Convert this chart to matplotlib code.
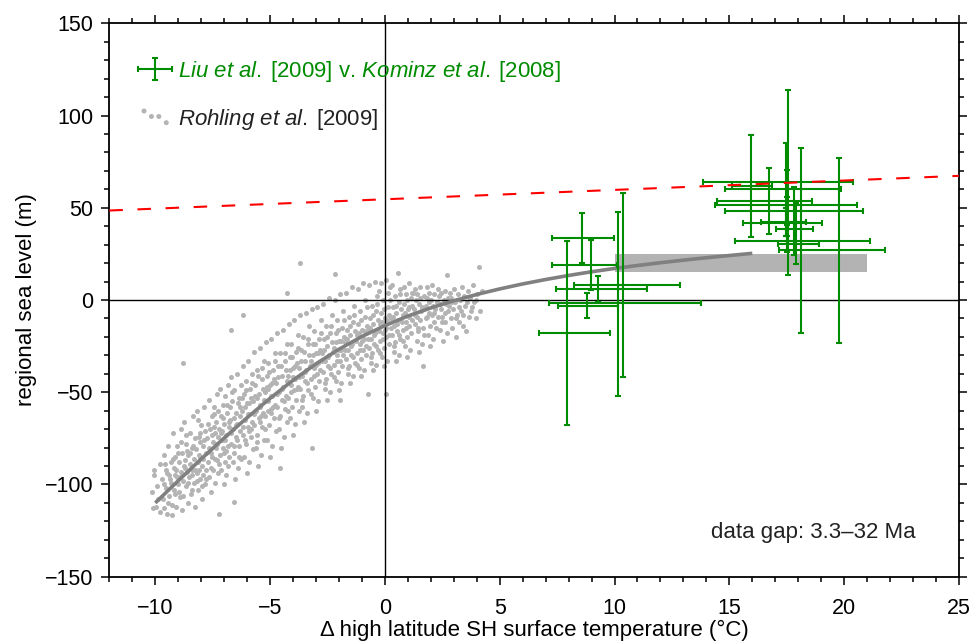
import matplotlib
matplotlib.use("Agg")
import matplotlib.pyplot as plt
import numpy as np
from matplotlib.ticker import MultipleLocator
from matplotlib.container import ErrorbarContainer
from matplotlib.legend_handler import HandlerErrorbar

plt.rcParams["font.family"] = ["Liberation Sans", "DejaVu Sans"]
plt.rcParams["font.size"] = 16
plt.rcParams["mathtext.fontset"] = "custom"
plt.rcParams["mathtext.rm"] = "Liberation Sans"
plt.rcParams["mathtext.it"] = "Liberation Sans:italic"

# ---------------------------------------------------------
# DATA
# ---------------------------------------------------------
# Rohling et al. [2009] cloud: (dT, sea level)
rohling_pts = [
    (-10.15, -104), (-10.05, -95), (-9.98, -112), (-9.92, -101), (-9.88, -108), (-9.8, -89), (-9.78, -115), (-10.1, -113),
    (-9.7, -97), (-9.68, -108), (-9.62, -84), (-9.6, -113), (-9.55, -92), (-9.52, -102), (-9.48, -116), (-9.45, -79),
    (-9.42, -95), (-9.38, -106), (-9.33, -88), (-9.3, -99), (-9.27, -111), (-9.5, -94),
    (-9.22, -72), (-9.2, -91), (-9.18, -103), (-9.14, -85), (-9.1, -112), (-9.07, -96), (-9.04, -79), (-9.0, -100),
    (-8.97, -88), (-8.94, -107), (-8.9, -70), (-8.87, -93), (-8.84, -114), (-8.82, -83), (-8.79, -98), (-8.76, -90),
    (-9.12, -95), (-8.95, -104),
    (-8.73, -66), (-8.7, -87), (-8.68, -101), (-8.65, -78), (-8.62, -93), (-8.59, -110), (-8.56, -84), (-8.53, -96),
    (-8.5, -72), (-8.47, -89), (-8.45, -105), (-8.42, -80), (-8.39, -92), (-8.36, -63), (-8.33, -99), (-8.3, -86),
    (-8.28, -112), (-8.26, -75), (-8.6, -82), (-8.4, -95),
    (-8.23, -81), (-8.2, -94), (-8.18, -60), (-8.15, -88), (-8.12, -103), (-8.1, -74), (-8.07, -85), (-8.04, -97),
    (-8.01, -68), (-7.98, -90), (-7.95, -108), (-7.93, -79), (-7.9, -86), (-7.87, -58), (-7.84, -100), (-7.82, -71),
    (-7.8, -92), (-7.77, -83), (-8.05, -77), (-7.92, -95), (-8.15, -65),
    (-7.73, -75), (-7.7, -88), (-7.68, -54), (-7.65, -96), (-7.62, -70), (-7.6, -81), (-7.57, -104), (-7.55, -63),
    (-7.52, -85), (-7.5, -77), (-7.47, -92), (-7.45, -58), (-7.42, -72), (-7.4, -99), (-7.37, -80), (-7.35, -66),
    (-7.32, -87), (-7.3, -51), (-7.28, -94), (-7.26, -74), (-7.58, -83), (-7.44, -69),
    (-7.23, -70), (-7.2, -84), (-7.18, -48), (-7.15, -63), (-7.12, -92), (-7.1, -76), (-7.07, -57), (-7.05, -80),
    (-7.02, -100), (-7.0, -67), (-6.97, -88), (-6.95, -52), (-6.92, -73), (-6.9, -95), (-6.87, -61), (-6.85, -79),
    (-6.82, -46), (-6.8, -69), (-6.78, -85), (-6.76, -58), (-7.08, -71), (-6.93, -82),
    (-6.73, -65), (-6.7, -78), (-6.68, -42), (-6.65, -55), (-6.62, -88), (-6.6, -70), (-6.57, -49), (-6.55, -83),
    (-6.52, -97), (-6.5, -61), (-6.47, -74), (-6.45, -40), (-6.42, -67), (-6.4, -91), (-6.37, -53), (-6.35, -79),
    (-6.32, -58), (-6.3, -71), (-6.28, -46), (-6.26, -86), (-6.58, -64), (-6.44, -76),
    (-6.23, -60), (-6.2, -73), (-6.18, -36), (-6.15, -51), (-6.12, -85), (-6.1, -65), (-6.07, -44), (-6.05, -78),
    (-6.02, -94), (-6.0, -56), (-5.97, -69), (-5.95, -33), (-5.92, -62), (-5.9, -88), (-5.87, -48), (-5.85, -74),
    (-5.82, -53), (-5.8, -66), (-5.78, -40), (-5.76, -81), (-6.08, -58), (-5.93, -71),
    (-5.73, -55), (-5.7, -68), (-5.68, -28), (-5.65, -46), (-5.62, -80), (-5.6, -60), (-5.57, -38), (-5.55, -73),
    (-5.52, -90), (-5.5, -51), (-5.47, -64), (-5.45, -26), (-5.42, -57), (-5.4, -84), (-5.37, -43), (-5.35, -69),
    (-5.32, -48), (-5.3, -61), (-5.28, -33), (-5.26, -76), (-5.58, -53), (-5.44, -66),
    (-5.23, -50), (-5.2, -63), (-5.18, -23), (-5.15, -41), (-5.12, -76), (-5.1, -55), (-5.07, -34), (-5.05, -68),
    (-5.02, -85), (-5.0, -46), (-4.97, -59), (-4.95, -21), (-4.92, -52), (-4.9, -79), (-4.87, -38), (-4.85, -64),
    (-4.82, -43), (-4.8, -57), (-4.78, -29), (-4.76, -71), (-5.08, -48), (-4.94, -61),
    (-4.73, -45), (-4.7, -58), (-4.68, -18), (-4.65, -36), (-4.62, -70), (-4.6, -50), (-4.57, -29), (-4.55, -63),
    (-4.52, -80), (-4.5, -41), (-4.47, -54), (-4.45, -16), (-4.42, -47), (-4.4, -74), (-4.37, -33), (-4.35, -59),
    (-4.32, -38), (-4.3, -52), (-4.28, -24), (-4.26, -66), (-4.57, -91),
    (-4.23, -41), (-4.2, -53), (-4.18, -13), (-4.15, -31), (-4.12, -64), (-4.1, -46), (-4.07, -24), (-4.05, -58),
    (-4.02, -73), (-4.0, -37), (-3.97, -49), (-3.95, -11), (-3.92, -43), (-3.9, -67), (-3.87, -28), (-3.85, -54),
    (-3.82, -34), (-3.8, -47), (-3.78, -19), (-3.76, -60),
    (-3.73, -37), (-3.7, -48), (-3.68, -8), (-3.65, -27), (-3.62, -58), (-3.6, -41), (-3.57, -20), (-3.55, -52),
    (-3.52, -66), (-3.5, -33), (-3.47, -44), (-3.45, -7), (-3.42, -38), (-3.4, -61), (-3.37, -24), (-3.35, -49),
    (-3.32, -30), (-3.3, -14), (-3.7, 20),
    (-3.23, -33), (-3.2, -43), (-3.18, -5), (-3.15, -24), (-3.12, -53), (-3.1, -37), (-3.07, -17), (-3.05, -47),
    (-3.02, -60), (-3.0, -29), (-2.97, -40), (-2.95, -4), (-2.92, -34), (-2.9, -55), (-2.87, -21), (-2.85, -44),
    (-2.82, -27), (-2.8, -11), (-3.16, -80),
    (-2.73, -29), (-2.7, -39), (-2.68, -2), (-2.65, -21), (-2.62, -48), (-2.6, -33), (-2.57, -14), (-2.55, -43),
    (-2.52, -54), (-2.5, -25), (-2.47, -36), (-2.45, 1), (-2.42, -30), (-2.4, -50), (-2.37, -18), (-2.35, -40),
    (-2.32, -8), (-2.3, -23),
    (-2.23, -26), (-2.2, -35), (-2.18, 0), (-2.16, 14), (-2.15, -18), (-2.12, -44), (-2.1, -30), (-2.07, -11),
    (-2.05, -39), (-2.02, -49), (-2.0, -22), (-1.97, -33), (-1.95, 3), (-1.92, -27), (-1.9, -45), (-1.87, -15),
    (-1.85, -36), (-1.82, -6), (-1.8, -20), (-1.96, -54),
    (-1.73, -23), (-1.7, -32), (-1.68, 4), (-1.65, -16), (-1.62, -40), (-1.6, -27), (-1.57, -9), (-1.55, -36),
    (-1.52, -45), (-1.5, -19), (-1.47, -30), (-1.45, 7), (-1.42, -24), (-1.4, -41), (-1.37, -12), (-1.35, -3),
    (-1.32, -34), (-1.3, -17),
    (-1.23, -19), (-1.2, -29), (-1.18, 6), (-1.15, -13), (-1.12, -37), (-1.1, -24), (-1.07, -6), (-1.05, -32),
    (-1.02, -41), (-1.0, -16), (-0.97, -27), (-0.95, 9), (-0.92, -21), (-0.9, -38), (-0.87, -9), (-0.85, 0),
    (-0.82, -30), (-0.8, -14),
    (-0.74, -51), (-0.73, -16), (-0.7, -26), (-0.68, 8), (-0.65, -10), (-0.62, -34), (-0.6, -21), (-0.57, -3),
    (-0.55, -29), (-0.52, -38), (-0.5, -13), (-0.47, -24), (-0.45, 10), (-0.42, -18), (-0.4, -35), (-0.37, -6),
    (-0.35, 2), (-0.32, -27), (-0.3, -11), (-0.27, 5),
    (-0.23, -13), (-0.2, -22), (-0.18, 9), (-0.15, -7), (-0.12, -31), (-0.1, -18), (-0.07, 0), (-0.05, -26),
    (-0.02, -36), (0.0, -10), (0.03, -20), (0.05, 11), (0.07, -15), (0.1, -33), (0.12, -4), (0.15, 4),
    (0.17, -24), (0.2, -8), (0.22, 7), (0.05, -51),
    (0.27, -10), (0.3, -19), (0.32, 8), (0.35, -4), (0.38, -28), (0.4, -14), (0.42, 2), (0.45, -23),
    (0.48, -33), (0.5, -7), (0.53, -17), (0.55, 14.7), (0.57, -11), (0.6, -30), (0.62, -1), (0.65, 6),
    (0.67, -21), (0.7, -5),
    (0.77, -8), (0.8, -16), (0.82, 7), (0.85, -2), (0.88, -25), (0.9, -12), (0.92, 3), (0.95, -20),
    (0.98, -31), (1.0, -5), (1.03, -14), (1.05, 9), (1.07, -9), (1.1, -27), (1.12, 1), (1.15, -18),
    (1.18, 4), (1.2, -3),
    (1.27, -5), (1.3, -13), (1.32, 6), (1.35, 0), (1.38, -22), (1.4, -9), (1.42, 3), (1.45, -17),
    (1.48, -28), (1.5, -2), (1.53, -11), (1.55, 7), (1.58, -6), (1.6, -24), (1.65, -36), (1.67, -15), (1.7, 2),
    (1.77, -3), (1.8, -10), (1.82, 7), (1.85, 1), (1.88, -19), (1.9, -7), (1.92, 4), (1.95, -14),
    (1.98, -25), (2.0, 0), (2.03, -8), (2.05, 8), (2.08, -3), (2.1, -21), (2.12, -12), (2.15, 3), (2.2, -5),
    (2.27, -1), (2.3, -9), (2.33, 6), (2.36, 2), (2.4, -16), (2.43, -5), (2.46, 4), (2.5, -12),
    (2.53, -22), (2.56, 0), (2.6, -7), (2.63, 5), (2.66, -2), (2.7, -18), (2.72, 13.4), (2.74, 1),
    (2.78, -3), (2.82, 4), (2.86, -10), (2.9, 1), (2.94, -15), (2.98, -5), (3.02, 6), (3.06, -1),
    (3.1, -20), (3.14, -8), (3.18, 3), (3.22, -12),
    (3.28, 0), (3.32, -6), (3.36, 7), (3.4, -14), (3.45, 2), (3.5, -3), (3.55, -17), (3.6, 5), (3.65, -9), (3.7, 1),
    (3.8, -4), (3.85, 8), (3.9, -1), (3.95, -10), (4.02, 3), (4.1, 17.9), (4.15, -6), (4.25, 5),
    (-8.78, -34.3), (-10.04, -92.2), (-6.57, -109.7), (-9.29, -116.3), (-7.23, -115.8),
    (-4.28, 3.8), (-6.72, -16), (-6.17, -8.4),
    # denser core
    (-9.64, -100), (-9.58, -89), (-9.46, -110), (-9.36, -97), (-9.24, -86), (-9.16, -105), (-9.08, -92),
    (-9.02, -83), (-8.92, -96), (-8.86, -77),
    (-8.8, -106), (-8.72, -91), (-8.66, -73), (-8.58, -99), (-8.48, -83), (-8.41, -103), (-8.34, -79),
    (-8.26, -92), (-8.18, -98), (-8.11, -84), (-8.03, -72), (-7.97, -101), (-8.09, -92),
    (-7.88, -76), (-7.8, -97), (-7.72, -67), (-7.66, -80), (-7.59, -91), (-7.53, -73), (-7.46, -62),
    (-7.39, -86), (-7.33, -78), (-7.27, -60), (-7.21, -89), (-7.14, -72), (-7.06, -64), (-7.0, -83),
    (-6.96, -76), (-6.89, -57), (-6.83, -90), (-6.77, -66), (-6.71, -72), (-6.64, -50), (-6.56, -79),
    (-6.49, -68), (-6.41, -56), (-6.34, -85), (-6.29, -63), (-6.22, -53), (-6.16, -69), (-6.09, -76),
    (-6.03, -49), (-5.98, -62),
    (-5.91, -56), (-5.84, -70), (-5.79, -45), (-5.72, -62), (-5.66, -52), (-5.59, -77), (-5.53, -41),
    (-5.46, -58), (-5.39, -63), (-5.33, -37), (-5.27, -54), (-5.21, -70), (-5.14, -47), (-5.09, -60),
    (-5.03, -39), (-4.98, -52),
    (-4.91, -45), (-4.86, -58), (-4.79, -33), (-4.72, -51), (-4.66, -42), (-4.59, -64), (-4.53, -36),
    (-4.46, -48), (-4.39, -55), (-4.33, -29), (-4.27, -44), (-4.21, -60), (-4.14, -38), (-4.08, -50),
    (-4.03, -31), (-3.98, -42),
    (-3.91, -36), (-3.84, -48), (-3.79, -26), (-3.72, -42), (-3.66, -33), (-3.59, -54), (-3.53, -28),
    (-3.46, -39), (-3.39, -45), (-3.33, -21), (-3.27, -36), (-3.21, -51), (-3.14, -30), (-3.08, -41),
    (-3.03, -24), (-2.98, -35),
    (-2.91, -29), (-2.84, -38), (-2.79, -18), (-2.72, -33), (-2.66, -27), (-2.59, -45), (-2.53, -20),
    (-2.46, -31), (-2.39, -37), (-2.33, -14), (-2.27, -28), (-2.21, -42), (-2.14, -23), (-2.08, -33),
    (-2.03, -16), (-1.98, -27),
    (-1.91, -22), (-1.84, -30), (-1.79, -11), (-1.72, -27), (-1.66, -21), (-1.59, -37), (-1.53, -14),
    (-1.46, -25), (-1.39, -31), (-1.33, -8), (-1.27, -22), (-1.21, -35), (-1.14, -18), (-1.08, -27),
    (-1.03, -11), (-0.98, -22),
    (-0.91, -17), (-0.84, -25), (-0.79, -4), (-0.72, -21), (-0.66, -15), (-0.59, -31), (-0.53, -8),
    (-0.46, -19), (-0.39, -25), (-0.33, -2), (-0.27, -17), (-0.21, -29), (-0.14, -12), (-0.08, -21),
    (-0.03, -5), (0.02, -16),
    (0.09, -11), (0.16, -19), (0.21, 0), (0.28, -15), (0.34, -9), (0.41, -25), (0.47, -3), (0.54, -13),
    (0.61, -19), (0.67, 3), (0.73, -12), (0.79, -22), (0.86, -7), (0.92, -15), (0.97, 0),
    (1.06, -4), (1.16, -11), (1.24, 4), (1.33, -8), (1.43, -15), (1.52, 1), (1.62, -4), (1.72, -19),
    (1.83, -9), (1.93, -1),
    (2.14, -7), (2.24, -15), (2.38, -2), (2.48, -9), (2.62, -12), (2.77, -6), (2.92, -1), (3.08, -10),
    (3.24, -4), (3.42, -8), (3.58, -1), (3.76, -6), (3.98, 0),
]

# fitted curve through the cloud
curve_x = [-10, -9, -8, -7, -6, -5, -4, -3, -2, -1, 0, 1, 2, 3, 4, 5, 6, 7, 8,
           9, 10, 11, 12, 13, 14, 15, 16]
curve_y = [-110, -98, -86.2, -74.8, -63.8, -53.3, -43.5, -34.6, -26.7, -19.8, -13.9,
           -8.7, -4.3, -0.4, 3.0, 6.0, 8.7, 11.1, 13.3, 15.3, 17.1, 18.7, 20.2,
           21.6, 22.9, 24.1, 25.3]

# Liu et al. [2009] v. Kominz et al. [2008]
liu_x   = [7.94, 8.57, 8.99, 9.29, 8.80, 10.14, 10.36,
           17.54, 15.93, 17.47, 16.73, 17.51, 17.49, 17.83, 17.47, 17.92, 18.11, 17.51, 19.78]
liu_y   = [-18.0, 33.4, 19.0, 6.0, -3.0, -1.9, 8.2,
           63.9, 61.8, 60.2, 53.8, 51.3, 48.2, 41.7, 42.3, 38.3, 32.2, 30.5, 27.1]
liu_xlo = [6.72, 7.26, 7.26, 7.45, 7.55, 7.16, 8.25,
           13.87, 15.10, 14.81, 14.48, 14.38, 14.81, 15.58, 16.37, 17.03, 15.24, 17.12, 17.15]
liu_xhi = [9.82, 9.98, 10.12, 11.42, 10.17, 13.78, 12.84,
           20.40, 16.85, 19.86, 18.62, 20.57, 20.84, 19.05, 18.34, 18.63, 21.12, 18.90, 21.78]
liu_ylo = [-67.8, 19.9, 5.3, -1.2, -9.9, -51.8, -41.9,
           13.8, 34.2, 34.5, 35.9, 31.9, 40.7, 24.2, 34.9, 19.5, -17.8, 26.2, -23.1]
liu_yhi = [32.2, 46.9, 32.5, 12.8, 3.8, 47.9, 58.0,
           113.9, 89.5, 85.1, 71.8, 70.6, 55.8, 61.4, 50.0, 52.6, 82.3, 34.9, 76.9]

# dashed red line
red_x = [-12, 25]
red_y = [48.5, 67.3]

# grey band
band_x = [10.0, 21.0]
band_y = [15.0, 25.0]

green = "#008c00"
grey_pts = "#b4b4b4"

# ---------------------------------------------------------
# PLOT
# ---------------------------------------------------------
fig = plt.figure(figsize=(9.71, 6.43), dpi=100)
ax = fig.add_axes([0.1126, 0.1031, 0.8750, 0.8607])

ax.fill_between(band_x, band_y[0], band_y[1], color="#b3b3b3", lw=0, zorder=1)

pts = np.array(rohling_pts)
sc = ax.scatter(pts[:, 0], pts[:, 1], s=13, color=grey_pts, lw=0, zorder=2)

ax.axhline(0, color="black", lw=1, zorder=2.5)
ax.axvline(0, color="black", lw=1, zorder=2.5)

ax.plot(curve_x, curve_y, color="#808080", lw=2.6, zorder=3, solid_capstyle="butt")

lx = np.array(liu_x)
ly = np.array(liu_y)
xerr = [lx - np.array(liu_xlo), np.array(liu_xhi) - lx]
yerr = [ly - np.array(liu_ylo), np.array(liu_yhi) - ly]
eb = ax.errorbar(lx, ly, xerr=xerr, yerr=yerr, fmt="none", ecolor=green,
                 elinewidth=1.5, capsize=2, capthick=1.5, zorder=4)

ax.plot(red_x, red_y, color="red", lw=1.5, dashes=(6.5, 7), zorder=5)

ax.set_xlim(-12, 25)
ax.set_ylim(-150, 150)
ax.xaxis.set_major_locator(MultipleLocator(5))
ax.xaxis.set_minor_locator(MultipleLocator(1))
ax.yaxis.set_major_locator(MultipleLocator(50))
ax.yaxis.set_minor_locator(MultipleLocator(10))
ax.tick_params(which="both", direction="out", top=True, right=True,
               labelsize=15.5, width=1.1)
ax.tick_params(which="major", length=5.8)
ax.tick_params(which="minor", length=3.6)
ax.tick_params(axis="x", which="major", pad=9.5)
ax.tick_params(axis="y", which="major", pad=5.5)
for sp in ax.spines.values():
    sp.set_linewidth(1.3)

ax.set_xlabel("\u0394 high latitude SH surface temperature (\u00b0C)", fontsize=16, labelpad=1.0)
ax.set_ylabel("regional sea level (m)", fontsize=16, labelpad=6)

ax.text(23.1, -126, "data gap: 3.3\u201332 Ma", ha="right", va="center", fontsize=16,
        color="#222222")

leg = ax.legend(handles=[eb, sc],
                labels=[r"$\mathit{Liu\ et\ al.}$" + "\u2009[2009] v. " + r"$\mathit{Kominz\ et\ al.}$" + "\u2009[2008]",
                        r"$\mathit{Rohling\ et\ al.}$" + "\u2009[2009]"],
                handler_map={ErrorbarContainer: HandlerErrorbar(xerr_size=0.78, yerr_size=0.5)},
                loc="upper left", bbox_to_anchor=(0.033, 0.936), frameon=False,
                borderpad=0, borderaxespad=0, handlelength=1.6, handletextpad=0.25,
                labelspacing=1.05, scatterpoints=4, scatteryoffsets=[0.9, 0.55, 0.55, 0.15],
                fontsize=16)
leg.get_texts()[0].set_color(green)
leg.get_texts()[1].set_color("#222222")

fig.savefig("out.png", dpi=100)
